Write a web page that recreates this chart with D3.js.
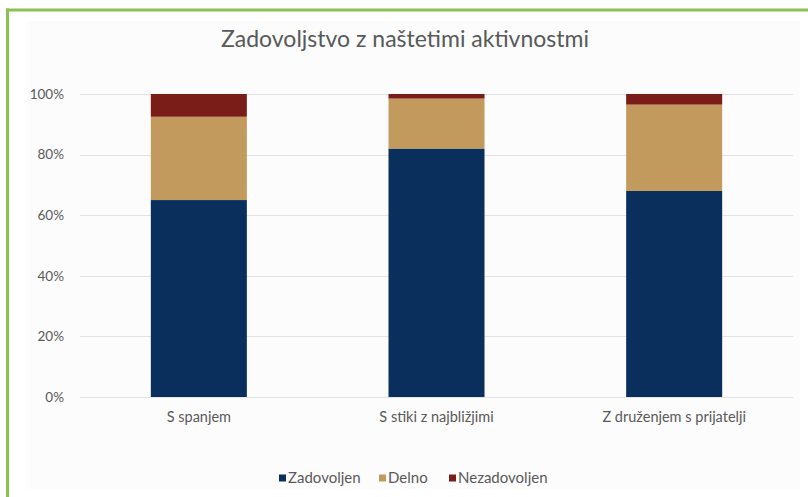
<!DOCTYPE html>
<html>
<head>
<meta charset="utf-8">
<script src="https://cdn.jsdelivr.net/npm/d3@7"></script>
<style>
  html, body { margin: 0; padding: 0; background: #fff; }
  svg { display: block; }
  text { font-family: Lato, "Open Sans", sans-serif; fill: #595959; }
</style>
</head>
<body>
<svg id="chart" width="808" height="497"></svg>
<script>
// Satisfaction with the listed activities (shares of respondents)
const categories = ["S spanjem", "S stiki z najbližjimi", "Z druženjem s prijatelji"];
const seriesNames = ["Zadovoljen", "Delno", "Nezadovoljen"];
const zadovoljen = [65, 82, 68];
const delno = [27.5, 16.5, 28.5];
const nezadovoljen = [7.5, 1.5, 3.5];
const yTicks = [0, 20, 40, 60, 80, 100];
const colors = ["#0b2f5c", "#c29a5d", "#7a1c18"];

const svg = d3.select("#chart");
const W = 808, H = 497;

// faint chart-area background
svg.append("rect").attr("x", 26).attr("y", 21).attr("width", 774).attr("height", 468)
  .attr("fill", "#fcfcfc");

// green frame (top and left edges)
svg.append("line").attr("x1", 6).attr("x2", W).attr("y1", 10).attr("y2", 10)
  .attr("stroke", "#8cc152").attr("stroke-width", 3);
svg.append("line").attr("x1", 7.5).attr("x2", 7.5).attr("y1", 8.5).attr("y2", H)
  .attr("stroke", "#8cc152").attr("stroke-width", 3);

// title
svg.append("text")
  .attr("x", 405).attr("y", 47)
  .attr("text-anchor", "middle")
  .style("font-size", "23px")
  .text("Zadovoljstvo z naštetimi aktivnostmi");

const plot = { left: 80, right: 793, top: 94, bottom: 397 };

const x = d3.scaleBand()
  .domain(categories)
  .range([plot.left, plot.right])
  .paddingInner(0.596)
  .paddingOuter(0.298);

const y = d3.scaleLinear().domain([0, 100]).range([plot.bottom, plot.top]);

// gridlines
svg.append("g")
  .selectAll("line")
  .data(yTicks)
  .join("line")
  .attr("x1", plot.left).attr("x2", plot.right)
  .attr("y1", d => Math.round(y(d)) + 0.5).attr("y2", d => Math.round(y(d)) + 0.5)
  .attr("stroke", "#e3e3e3").attr("stroke-width", 1);

// y axis labels
const yAxis = d3.axisLeft(y).tickValues(yTicks).tickFormat(d => d + "%").tickSize(0).tickPadding(0);
const yg = svg.append("g").attr("transform", `translate(${plot.left - 16},0)`).call(yAxis);
yg.select(".domain").remove();
yg.selectAll("text").style("font-size", "13.5px").style("font-family", "Lato, sans-serif").attr("fill", "#595959");

// stacked bars
const rows = categories.map((c, i) => ({
  cat: c, Zadovoljen: zadovoljen[i], Delno: delno[i], Nezadovoljen: nezadovoljen[i]
}));
const stack = d3.stack().keys(seriesNames)(rows);

svg.append("g")
  .selectAll("g")
  .data(stack)
  .join("g")
  .attr("fill", (d, i) => colors[i])
  .selectAll("rect")
  .data(d => d)
  .join("rect")
  .attr("x", d => x(d.data.cat))
  .attr("width", x.bandwidth())
  .attr("y", d => y(d[1]))
  .attr("height", d => y(d[0]) - y(d[1]));

// x axis labels
const xAxis = d3.axisBottom(x).tickSize(0).tickPadding(0);
const xg = svg.append("g").attr("transform", `translate(0,${plot.bottom + 15})`).call(xAxis);
xg.select(".domain").remove();
xg.selectAll("text").style("font-size", "14.5px").style("font-family", "Lato, sans-serif").attr("fill", "#595959");

// legend
const legendX = [279, 379, 449];
const lg = svg.append("g");
seriesNames.forEach((name, i) => {
  lg.append("rect").attr("x", legendX[i]).attr("y", 474.5).attr("width", 7).attr("height", 7).attr("fill", colors[i]);
  lg.append("text").attr("x", legendX[i] + 9).attr("y", 483)
    .style("font-size", "15px").text(name);
});
</script>
</body>
</html>
